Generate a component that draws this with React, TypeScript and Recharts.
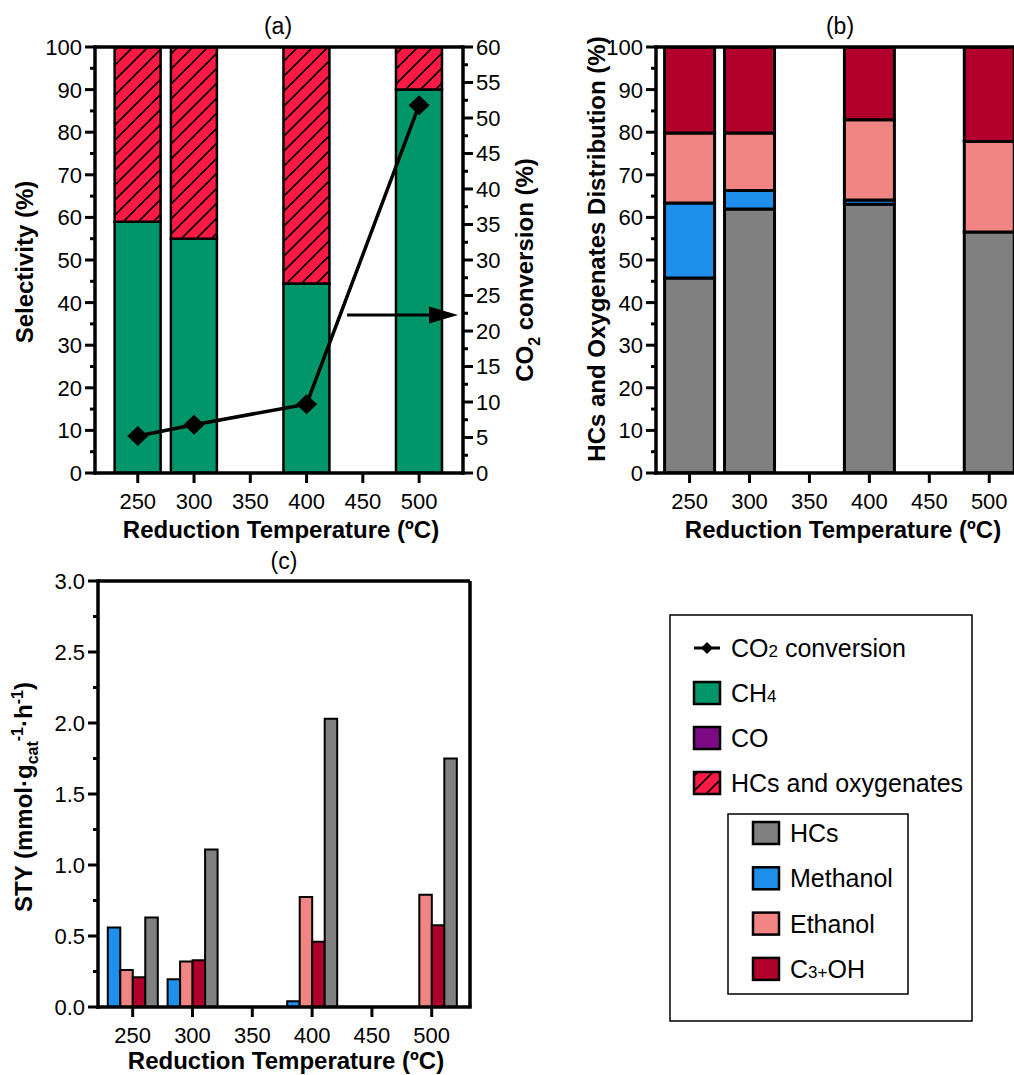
import React from 'react';
import { ComposedChart, Bar, Line, XAxis, YAxis, ReferenceLine } from 'recharts';

const FONT = '"Liberation Sans", Arial, Helvetica, sans-serif';
const TICK_FONT = 22;

// Reduction temperatures (ºC) and axis ticks
const temps = [250, 300, 400, 500];
const tempTicks = [250, 300, 350, 400, 450, 500];

// (a) Selectivity (%) and CO2 conversion (%)
const ch4Sel = [59, 55, 44.5, 90];
const coSel = [0, 0, 0, 0];
const hcOxSel = [41, 45, 55.5, 10];
const co2Conv = [5.2, 6.8, 9.7, 51.8];

// (b) HCs and oxygenates distribution (%)
const hcsDist = [45.8, 62.0, 63.1, 56.6];
const methanolDist = [17.6, 4.3, 1.0, 0];
const ethanolDist = [16.4, 13.5, 18.8, 21.2];
const c3ohDist = [20.2, 20.2, 17.1, 22.2];

// (c) STY (mmol·gcat-1·h-1)
const methanolSty = [0.56, 0.195, 0.04, 0];
const ethanolSty = [0.26, 0.32, 0.775, 0.79];
const c3ohSty = [0.21, 0.33, 0.46, 0.575];
const hcsSty = [0.63, 1.11, 2.03, 1.75];

// Axis tick values (major + minor)
const pctTicks = [0, 5, 10, 15, 20, 25, 30, 35, 40, 45, 50, 55, 60, 65, 70, 75, 80, 85, 90, 95, 100];
const convTicks = [0, 2.5, 5, 7.5, 10, 12.5, 15, 17.5, 20, 22.5, 25, 27.5, 30, 32.5, 35, 37.5, 40, 42.5, 45, 47.5, 50, 52.5, 55, 57.5, 60];
const styTicks = [0, 0.25, 0.5, 0.75, 1, 1.25, 1.5, 1.75, 2, 2.25, 2.5, 2.75, 3];

// Arrow pointing at the conversion axis
const arrowFrom = { x: 436, y: 22.25 };
const arrowTo = { x: 534.6, y: 22.25 };

const COLORS = {
  ch4: '#00966A',
  co: '#7D0A85',
  hcOxRed: '#FF1A45',
  hcs: '#808080',
  methanol: '#1E8FEB',
  ethanol: '#F08584',
  c3oh: '#B0002B',
};

const dataA = temps.map((t, i) => ({ t, ch4: ch4Sel[i], co: coSel[i], hcox: hcOxSel[i], conv: co2Conv[i] }));
const dataB = temps.map((t, i) => ({ t, hcs: hcsDist[i], meoh: methanolDist[i], etoh: ethanolDist[i], c3: c3ohDist[i] }));
const dataC = temps.map((t, i) => ({ t, meoh: methanolSty[i], etoh: ethanolSty[i], c3: c3ohSty[i], hcs: hcsSty[i] }));

const AXIS_LINE = { stroke: '#000', strokeWidth: 3.5, strokeLinecap: 'square' as const };

const makeYTick = (side: 'left' | 'right', isMajor: (v: number) => boolean, fmt: (v: number) => string) =>
  (props: any) => {
    const { x, y, payload } = props;
    const v = payload.value;
    const major = isMajor(v);
    const dir = side === 'left' ? -1 : 1;
    const len = major ? 10 : 5;
    return (
      <g>
        <line x1={x} x2={x + dir * len} y1={y} y2={y} stroke="#000" strokeWidth={3} />
        {major && (
          <text
            x={x + dir * 13}
            y={y}
            dy="0.36em"
            textAnchor={side === 'left' ? 'end' : 'start'}
            fontSize={TICK_FONT}
            fontFamily={FONT}
            fill="#000"
          >
            {fmt(v)}
          </text>
        )}
      </g>
    );
  };

const XTick = (props: any) => {
  const { x, y, payload } = props;
  return (
    <g>
      <line x1={x} x2={x} y1={y} y2={y + 10} stroke="#000" strokeWidth={3} />
      <text x={x} y={y + 36} textAnchor="middle" fontSize={TICK_FONT} fontFamily={FONT} fill="#000">
        {payload.value}
      </text>
    </g>
  );
};

const pctTick = makeYTick('left', (v) => v % 10 === 0, (v) => String(v));
const convTick = makeYTick('right', (v) => v % 5 === 0, (v) => String(v));
const styTick = makeYTick('left', (v) => Number.isInteger(v * 2), (v) => v.toFixed(1));

const Diamond = (p: any) => {
  const { cx, cy, index } = p;
  if (cx == null || cy == null) return <g key={`d${index}`} />;
  return (
    <polygon
      key={`d${index}`}
      points={`${cx},${cy - 10} ${cx + 10.5},${cy} ${cx},${cy + 10} ${cx - 10.5},${cy}`}
      fill="#000"
    />
  );
};

const ArrowShape = (p: any) => {
  const { x1, y1, x2, y2 } = p;
  return (
    <g>
      <line x1={x1} y1={y1} x2={x2 - 24} y2={y2} stroke="#000" strokeWidth={3} />
      <polygon points={`${x2},${y2} ${x2 - 29},${y2 - 8.5} ${x2 - 29},${y2 + 8.5}`} fill="#000" />
    </g>
  );
};

const barStroke = { stroke: '#000', strokeWidth: 2.5 };

function ChartA() {
  return (
    <ComposedChart width={560} height={545} data={dataA} margin={{ top: 47, right: 0, bottom: 0, left: 0 }}>
      <XAxis
        dataKey="t"
        type="number"
        domain={[212, 539]}
        ticks={tempTicks}
        interval={0}
        height={72}
        tickSize={0}
        tickMargin={0}
        tickLine={false}
        tick={XTick}
        axisLine={AXIS_LINE}
        allowDataOverflow
      />
      <YAxis
        yAxisId="left"
        orientation="left"
        width={95}
        domain={[0, 100]}
        ticks={pctTicks}
        interval={0}
        tickSize={0}
        tickMargin={0}
        tickLine={false}
        tick={pctTick}
        axisLine={AXIS_LINE}
        allowDataOverflow
      />
      <YAxis
        yAxisId="right"
        orientation="right"
        width={97}
        domain={[0, 60]}
        ticks={convTicks}
        interval={0}
        tickSize={0}
        tickMargin={0}
        tickLine={false}
        tick={convTick}
        axisLine={AXIS_LINE}
        allowDataOverflow
      />
      <Bar yAxisId="left" dataKey="ch4" stackId="s" barSize={46} fill={COLORS.ch4} {...barStroke} isAnimationActive={false} />
      <Bar yAxisId="left" dataKey="co" stackId="s" barSize={46} fill={COLORS.co} {...barStroke} isAnimationActive={false} />
      <Bar yAxisId="left" dataKey="hcox" stackId="s" barSize={46} fill="url(#hatchRed)" {...barStroke} isAnimationActive={false} />
      <Line
        yAxisId="right"
        dataKey="conv"
        type="linear"
        stroke="#000"
        strokeWidth={3.5}
        dot={Diamond}
        activeDot={false}
        isAnimationActive={false}
      />
      <ReferenceLine yAxisId="left" y={100} stroke="#000" strokeWidth={3.5} />
      <ReferenceLine yAxisId="right" segment={[arrowFrom, arrowTo]} shape={ArrowShape} />
    </ComposedChart>
  );
}

function ChartB() {
  return (
    <ComposedChart width={520} height={545} data={dataB} margin={{ top: 47, right: 44, bottom: 0, left: 0 }}>
      <XAxis
        dataKey="t"
        type="number"
        domain={[222, 539]}
        ticks={tempTicks}
        interval={0}
        height={72}
        tickSize={0}
        tickMargin={0}
        tickLine={false}
        tick={XTick}
        axisLine={AXIS_LINE}
        allowDataOverflow
      />
      <YAxis
        orientation="left"
        width={96}
        domain={[0, 100]}
        ticks={pctTicks}
        interval={0}
        tickSize={0}
        tickMargin={0}
        tickLine={false}
        tick={pctTick}
        axisLine={AXIS_LINE}
        allowDataOverflow
      />
      <Bar dataKey="hcs" stackId="s" barSize={50} fill={COLORS.hcs} stroke="#000" strokeWidth={3} isAnimationActive={false} />
      <Bar dataKey="meoh" stackId="s" barSize={50} fill={COLORS.methanol} stroke="#000" strokeWidth={3} isAnimationActive={false} />
      <Bar dataKey="etoh" stackId="s" barSize={50} fill={COLORS.ethanol} stroke="#000" strokeWidth={3} isAnimationActive={false} />
      <Bar dataKey="c3" stackId="s" barSize={50} fill={COLORS.c3oh} stroke="#000" strokeWidth={3} isAnimationActive={false} />
      <ReferenceLine y={100} stroke="#000" strokeWidth={3.5} />
      <ReferenceLine x={539} stroke="#000" strokeWidth={3.5} />
    </ComposedChart>
  );
}

function ChartC() {
  return (
    <ComposedChart width={560} height={535} data={dataC} barGap={0} margin={{ top: 41, right: 90, bottom: 0, left: 0 }}>
      <XAxis
        dataKey="t"
        type="number"
        domain={[221, 532]}
        ticks={tempTicks}
        interval={0}
        height={68}
        tickSize={0}
        tickMargin={0}
        tickLine={false}
        tick={XTick}
        axisLine={AXIS_LINE}
        allowDataOverflow
      />
      <YAxis
        orientation="left"
        width={98}
        domain={[0, 3]}
        ticks={styTicks}
        interval={0}
        tickSize={0}
        tickMargin={0}
        tickLine={false}
        tick={styTick}
        axisLine={AXIS_LINE}
        allowDataOverflow
      />
      <Bar dataKey="meoh" barSize={12.5} fill={COLORS.methanol} stroke="#000" strokeWidth={2} isAnimationActive={false} />
      <Bar dataKey="etoh" barSize={12.5} fill={COLORS.ethanol} stroke="#000" strokeWidth={2} isAnimationActive={false} />
      <Bar dataKey="c3" barSize={12.5} fill={COLORS.c3oh} stroke="#000" strokeWidth={2} isAnimationActive={false} />
      <Bar dataKey="hcs" barSize={12.5} fill={COLORS.hcs} stroke="#000" strokeWidth={2} isAnimationActive={false} />
      <ReferenceLine y={3} stroke="#000" strokeWidth={3.5} />
      <ReferenceLine x={532} stroke="#000" strokeWidth={3.5} />
    </ComposedChart>
  );
}

type Seg = [string, boolean];
type LegendItem = { label: Seg[]; kind: 'line' | 'box'; fill: string };

const outerLegend: LegendItem[] = [
  { label: [['CO', false], ['2', true], [' conversion', false]], kind: 'line', fill: '#000' },
  { label: [['CH', false], ['4', true]], kind: 'box', fill: COLORS.ch4 },
  { label: [['CO', false]], kind: 'box', fill: COLORS.co },
  { label: [['HCs and oxygenates', false]], kind: 'box', fill: 'url(#hatchRed)' },
];
const innerLegend: LegendItem[] = [
  { label: [['HCs', false]], kind: 'box', fill: COLORS.hcs },
  { label: [['Methanol', false]], kind: 'box', fill: COLORS.methanol },
  { label: [['Ethanol', false]], kind: 'box', fill: COLORS.ethanol },
  { label: [['C', false], ['3+', true], ['OH', false]], kind: 'box', fill: COLORS.c3oh },
];

function LegendRow({ item, x, y }: { item: LegendItem; x: number; y: number }) {
  // y = text baseline; x = left of symbol
  return (
    <g>
      {item.kind === 'line' ? (
        <g>
          <line x1={x} x2={x + 26} y1={y - 9} y2={y - 9} stroke="#000" strokeWidth={3} />
          <polygon points={`${x + 13},${y - 15} ${x + 19},${y - 9} ${x + 13},${y - 3} ${x + 7},${y - 9}`} fill="#000" />
        </g>
      ) : (
        <rect x={x} y={y - 20} width={26} height={22} fill={item.fill} stroke="#000" strokeWidth={2.5} />
      )}
      <text x={x + 37} y={y} fontSize={25} fontFamily={FONT} fill="#000">
        {item.label.map(([s, sub], i) => (
          <tspan key={i} fontSize={sub ? 17 : 25}>
            {s}
          </tspan>
        ))}
      </text>
    </g>
  );
}

function Overlay() {
  const bold = { fontFamily: FONT, fontWeight: 700, fontSize: 24, fill: '#000' } as const;
  return (
    <svg width={1014} height={1075} style={{ position: 'absolute', left: 0, top: 0, pointerEvents: 'none' }}>
      <defs>
        <pattern id="hatchRed" patternUnits="userSpaceOnUse" width={15} height={15}>
          <rect x={0} y={0} width={15} height={15} fill={COLORS.hcOxRed} />
          <path d="M0,15 L15,0 M-4,4 L4,-4 M11,19 L19,11" stroke="#000" strokeWidth={1.6} />
        </pattern>
      </defs>

      {/* panel titles */}
      <text x={278} y={34} textAnchor="middle" fontSize={23} fontFamily={FONT} fill="#000">(a)</text>
      <text x={840} y={34} textAnchor="middle" fontSize={23} fontFamily={FONT} fill="#000">(b)</text>
      <text x={284} y={569} textAnchor="middle" fontSize={23} fontFamily={FONT} fill="#000">(c)</text>

      {/* x axis titles */}
      <text x={281} y={538} textAnchor="middle" {...bold}>Reduction Temperature (ºC)</text>
      <text x={843} y={538} textAnchor="middle" {...bold}>Reduction Temperature (ºC)</text>
      <text x={286} y={1069} textAnchor="middle" {...bold}>Reduction Temperature (ºC)</text>

      {/* y axis titles */}
      <text x={33} y={262} textAnchor="middle" transform="rotate(-90 33 262)" {...bold}>Selectivity (%)</text>
      <text x={533} y={270} textAnchor="middle" transform="rotate(-90 533 270)" {...bold}>
        CO<tspan fontSize={16} dy={7}>2</tspan>
        <tspan dy={-7}> conversion (%)</tspan>
      </text>
      <text x={605} y={249} textAnchor="middle" transform="rotate(-90 605 249)" {...bold}>
        HCs and Oxygenates Distribution (%)
      </text>
      <text x={32} y={797} textAnchor="middle" transform="rotate(-90 32 797)" {...bold}>
        STY (mmol·g
        <tspan fontSize={16} dy={6}>cat</tspan>
        <tspan fontSize={16} dy={-15}>-1</tspan>
        <tspan dy={9}>·h</tspan>
        <tspan fontSize={16} dy={-9}>-1</tspan>
        <tspan dy={9}>)</tspan>
      </text>

      {/* legend */}
      <rect x={670} y={615} width={302} height={406} fill="none" stroke="#000" strokeWidth={1.5} />
      {outerLegend.map((it, i) => (
        <LegendRow key={i} item={it} x={694} y={657 + i * 45} />
      ))}
      <rect x={728} y={814} width={180} height={180} fill="none" stroke="#000" strokeWidth={1.5} />
      {innerLegend.map((it, i) => (
        <LegendRow key={i} item={it} x={753} y={842 + i * 45.3} />
      ))}
    </svg>
  );
}

export default function App() {
  return (
    <div
      style={{
        position: 'absolute',
        left: 0,
        top: 0,
        width: 1014,
        height: 1075,
        overflow: 'hidden',
        background: '#fff',
        fontFamily: FONT,
      }}
    >
      <div style={{ position: 'absolute', left: 0, top: 0 }}>
        <ChartA />
      </div>
      <div style={{ position: 'absolute', left: 560, top: 0 }}>
        <ChartB />
      </div>
      <div style={{ position: 'absolute', left: 0, top: 540 }}>
        <ChartC />
      </div>
      <Overlay />
    </div>
  );
}
